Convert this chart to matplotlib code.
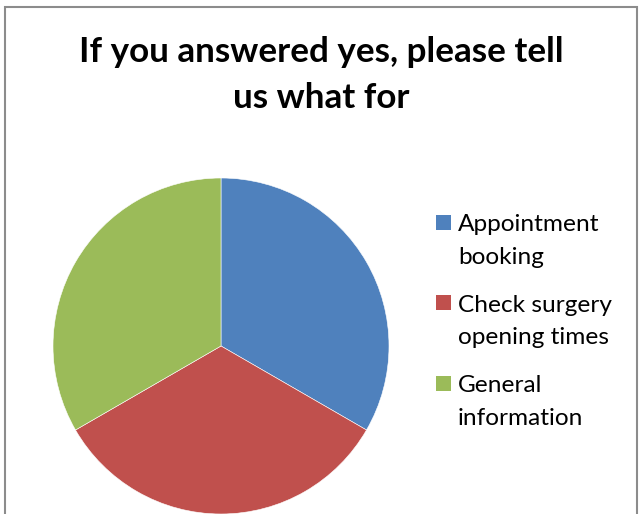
import matplotlib
matplotlib.use("Agg")
import matplotlib.pyplot as plt
from matplotlib.patches import Rectangle

plt.rcParams['font.family'] = ['Lato', 'DejaVu Sans']

title = "If you answered yes, please tell\nus what for"
categories = ["Appointment\nbooking", "Check surgery\nopening times", "General\ninformation"]
values = [1, 1, 1]
colors = ["#4F81BD", "#C0504D", "#9BBB59"]

W, H = 642, 514
fig = plt.figure(figsize=(W / 100, H / 100), dpi=100)

# chart-area frame (runs past the bottom edge)
fig.add_artist(Rectangle((4.5 / W, -0.05), (637 - 4.5) / W, 1.05 - 6.5 / H,
                         transform=fig.transFigure, fill=False,
                         edgecolor="#8C8C8C", linewidth=1.5))

ax = fig.add_axes([53 / W, 0.0, 336 / W, 336 / H])
wedges, _ = ax.pie(values, colors=colors, startangle=90, counterclock=False,
                   wedgeprops=dict(linewidth=0.4, edgecolor="white"))
ax.set_xlim(-1, 1)
ax.set_ylim(-1, 1)
ax.set_aspect("equal")

fig.text(321 / W, 1 - 75 / H, title, ha="center", va="center",
         fontsize=25.2, fontweight="bold", linespacing=1.5)

# legend: square marker beside the first line of each label
for i, (lab, col) in enumerate(zip(categories, colors)):
    y_top = 222 + i * 80.5
    fig.add_artist(Rectangle((436 / W, 1 - (y_top + 7.5) / H), 15 / W, 15 / H,
                             transform=fig.transFigure, facecolor=col,
                             edgecolor="none"))
    fig.text(458 / W, 1 - (y_top + 19) / H, lab, ha="left", va="center",
             fontsize=17.6, linespacing=1.65)

fig.savefig("out.png", dpi=100)
